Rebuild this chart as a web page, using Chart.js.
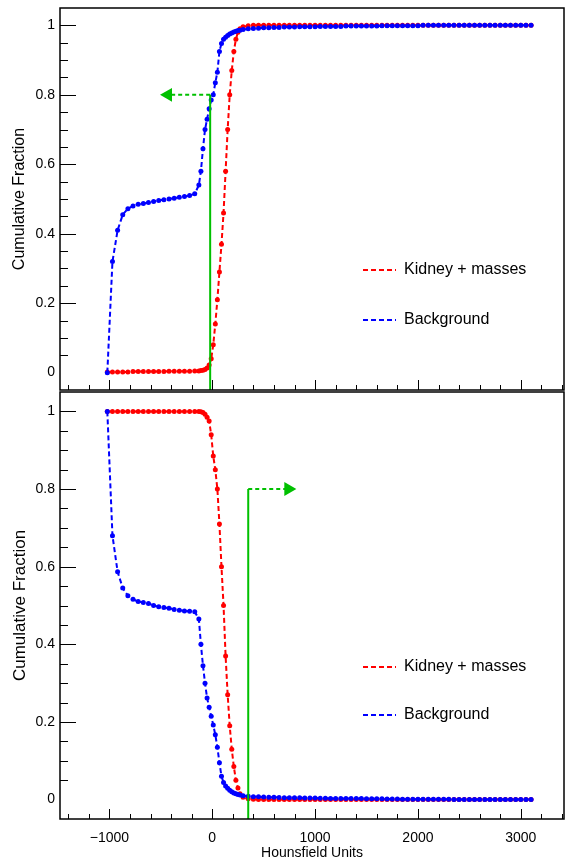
<!DOCTYPE html>
<html>
<head>
<meta charset="utf-8">
<script src="https://cdn.jsdelivr.net/npm/chart.js@4.4.0/dist/chart.umd.min.js"></script>
<style>
  body { margin: 0; background: #fff; }
  #wrap { position: relative; width: 565px; height: 863px; }
  canvas { position: absolute; left: 0; }
  #upper { top: 0; }
  #lower { top: 388px; }
</style>
</head>
<body>
<div id="wrap">
  <canvas id="upper" width="565" height="392"></canvas>
  <canvas id="lower" width="565" height="475"></canvas>
</div>
<script>
"use strict";

/*----------------------------------------*/
/*  data
/*----------------------------------------*/
var hu = [-1020,-970,-920,-870,-820,-770,-720,-670,-620,-570,-520,-470,-420,-370,-320,-270,-220,-170,
  -130,-110,-90,-70,-50,-30,-10,10,30,50,70,90,110,130,150,170,190,210,230,250,270,
  300,350,
  400,450,500,550,600,650,700,750,800,850,900,950,1000,
  1050,1100,1150,1200,1250,
  1300,1350,1400,1450,1500,1550,1600,
  1650,1700,1750,1800,1850,1900,1950,2000,
  2050,2100,2150,2200,2250,2300,2350,2400,2450,2500,2550,2600,2650,2700,2750,2800,2850,2900,2950,3000,3050,3100];

// upper pad: fraction below the value
var kidneyBelow = [0.002,0.002,0.002,0.002,0.002,0.003,0.003,0.003,0.003,0.003,0.003,0.003,0.004,0.004,0.004,0.004,0.004,0.005,
  0.005,0.006,0.007,0.009,0.013,0.022,0.04,0.08,0.14,0.21,0.29,0.37,0.46,0.58,0.70,0.80,0.87,0.925,0.96,0.98,0.99,
  0.996,0.999,
  1,1,1,1,1,1,1,1,1,1,1,1,1,
  1,1,1,1,1,
  1,1,1,1,1,1,1,
  1,1,1,1,1,1,1,1,
  1,1,1,1,1,1,1,1,1,1,1,1,1,1,1,1,1,1,1,1,1,1];
var backgroundBelow = [0,0.32,0.41,0.455,0.472,0.48,0.485,0.487,0.49,0.493,0.496,0.498,0.5,0.502,0.505,0.507,0.51,0.515,
  0.54,0.58,0.645,0.70,0.73,0.76,0.785,0.80,0.835,0.865,0.925,0.948,0.96,0.966,0.971,0.975,0.978,0.981,0.983,0.985,0.986,
  0.988,0.99,
  0.991,0.992,0.993,0.993,0.994,0.994,0.995,0.995,0.995,0.996,0.996,0.996,0.996,
  0.997,0.997,0.997,0.997,0.997,
  0.998,0.998,0.998,0.998,0.998,0.998,0.998,
  0.999,0.999,0.999,0.999,0.999,0.999,0.999,0.999,
  1,1,1,1,1,1,1,1,1,1,1,1,1,1,1,1,1,1,1,1,1,1];

// lower pad: fraction above the value
var kidneyAbove = [1,1,1,1,1,1,1,1,1,1,1,1,1,1,1,1,1,1,
  1,0.999,0.997,0.993,0.985,0.975,0.94,0.885,0.85,0.80,0.71,0.60,0.50,0.37,0.27,0.19,0.13,0.085,0.05,0.03,0.015,
  0.006,0.002,
  0.001,0.0005,0,0,0,0,0,0,0,0,0,0,0,
  0,0,0,0,0,
  0,0,0,0,0,0,0,
  0,0,0,0,0,0,0,0,
  0,0,0,0,0,0,0,0,0,0,0,0,0,0,0,0,0,0,0,0,0,0];
var backgroundAbove = [1,0.68,0.587,0.545,0.525,0.516,0.51,0.508,0.505,0.5,0.497,0.495,0.493,0.49,0.488,0.486,0.485,0.484,
  0.465,0.40,0.345,0.30,0.262,0.238,0.215,0.192,0.167,0.135,0.095,0.06,0.044,0.035,0.029,0.024,0.02,0.017,0.015,0.013,0.012,
  0.01,0.0085,
  0.0075,0.007,0.0065,0.006,0.006,0.0055,0.005,0.005,0.0045,0.0045,0.004,0.004,0.004,
  0.0035,0.0035,0.003,0.003,0.003,
  0.0025,0.0025,0.0025,0.0025,0.002,0.002,0.002,
  0.002,0.0015,0.0015,0.0015,0.001,0.001,0.001,0.001,
  0.001,0.001,0.0008,0.0008,0.0007,0.0006,0.0005,0.0005,0.0004,0.0004,0.0003,0.0003,0.0003,0.0002,0.0002,0.0002,0.0001,0.0001,0.0001,0.0001,0.0001,0];

// cut lines and arrows
var cutUpper = -20, arrowUpper = -430;
var cutLower = 350, arrowLower = 740;
var arrowLevel = 0.8;

var xTicks = [-1000, 0, 1000, 2000, 3000];
var yTicks = [0, 0.2, 0.4, 0.6, 0.8, 1];
var legendLabels = ["Kidney + masses", "Background"];

var xMin = -1480, xMax = 3420, yMin = -0.05, yMax = 1.05;
var RED = '#ff0000', BLUE = '#0000ff', GREEN = '#00c000';
var FONT = '"Liberation Sans", Arial, Helvetica, sans-serif';

/*----------------------------------------*/
/*  helpers
/*----------------------------------------*/
function pts(ys) {
  return hu.map(function (x, i) { return { x: x, y: ys[i] }; });
}

function curve(label, ys, color) {
  return {
    label: label, data: pts(ys), showLine: true,
    borderColor: color, backgroundColor: color, borderWidth: 2, borderDash: [5, 3],
    pointRadius: 2.5, pointHoverRadius: 2.5, pointBorderWidth: 0, pointBackgroundColor: color
  };
}

function cutSets(cut, head, rot) {
  return [
    { data: [{ x: head, y: arrowLevel }], showLine: false, pointStyle: 'triangle', pointRotation: rot,
      pointRadius: 8, pointHoverRadius: 8, pointBorderWidth: 0, pointBackgroundColor: GREEN },
    { data: [{ x: cut, y: yMin }, { x: cut, y: arrowLevel }], showLine: true,
      borderColor: GREEN, borderWidth: 2, pointRadius: 0 },
    { data: [{ x: cut, y: arrowLevel }, { x: head, y: arrowLevel }], showLine: true,
      borderColor: GREEN, borderWidth: 2, borderDash: [4, 3], pointRadius: 0 }
  ];
}

// ROOT style frame with ticks pointing inwards
var frameTicks = {
  id: 'frameTicks',
  afterDatasetsDraw: function (chart) {
    var ctx = chart.ctx, a = chart.chartArea, x = chart.scales.x, y = chart.scales.y;
    ctx.save();
    ctx.strokeStyle = '#000';
    ctx.lineWidth = 1;
    ctx.beginPath();
    for (var v = -1400; v <= 3400; v += 200) {
      var px = Math.round(x.getPixelForValue(v)) + 0.5;
      var len = (v % 1000 === 0) ? 10 : 5;
      ctx.moveTo(px, a.bottom);
      ctx.lineTo(px, a.bottom - len);
    }
    for (var k = 1; k <= 20; k++) {
      var py = Math.round(y.getPixelForValue(k * 0.05)) + 0.5;
      var l2 = (k % 4 === 0) ? 16 : 8;
      ctx.moveTo(a.left, py);
      ctx.lineTo(a.left + l2, py);
    }
    ctx.stroke();
    ctx.lineWidth = 1.5;
    ctx.strokeRect(a.left, a.top, a.right - a.left, a.bottom - a.top);
    ctx.restore();
  }
};

var padLegend = {
  id: 'padLegend',
  afterDraw: function (chart, args, opts) {
    var ctx = chart.ctx;
    var colors = [RED, BLUE];
    ctx.save();
    ctx.lineWidth = 2;
    ctx.setLineDash([5, 3]);
    ctx.font = '16px ' + FONT;
    ctx.textBaseline = 'middle';
    ctx.fillStyle = '#000';
    opts.rows.forEach(function (ry, i) {
      ctx.strokeStyle = colors[i];
      ctx.beginPath();
      ctx.moveTo(363, ry);
      ctx.lineTo(396, ry);
      ctx.stroke();
      ctx.fillText(legendLabels[i], 404, ry);
    });
    ctx.restore();
  }
};

function fmtX(v) {
  return v < 0 ? '\u2212' + Math.abs(v) : String(v);
}

function makePad(id, datasets, o) {
  return new Chart(document.getElementById(id), {
    type: 'scatter',
    data: { datasets: datasets },
    plugins: [frameTicks, padLegend],
    options: {
      responsive: false,
      animation: false,
      events: [],
      layout: { autoPadding: false, padding: { left: 0, right: 1, top: o.top, bottom: 0 } },
      plugins: {
        legend: { display: false },
        tooltip: { enabled: false },
        padLegend: { rows: o.legendRows }
      },
      scales: {
        x: {
          type: 'linear', min: xMin, max: xMax,
          afterBuildTicks: function (s) { s.ticks = xTicks.map(function (v) { return { value: v }; }); },
          afterFit: function (s) { s.height = o.xHeight; s.paddingLeft = 0; s.paddingRight = 0; },
          grid: { display: false }, border: { display: false },
          ticks: { display: o.xLabels, padding: 3, autoSkip: false, maxRotation: 0, color: '#000',
                   font: { family: FONT, size: 14 }, callback: fmtX },
          title: { display: o.xLabels, text: 'Hounsfield Units', color: '#000',
                   font: { family: FONT, size: 14 }, padding: { top: 0, bottom: 1 } }
        },
        y: {
          type: 'linear', min: yMin, max: yMax,
          afterBuildTicks: function (s) { s.ticks = yTicks.map(function (v) { return { value: v }; }); },
          afterFit: function (s) { s.width = 60; s.paddingTop = 0; s.paddingBottom = 0; },
          grid: { display: false, drawTicks: false }, border: { display: false },
          ticks: { padding: 5, color: '#000', font: { family: FONT, size: 14 },
                   callback: function (v) { return String(v); } },
          title: { display: true, text: 'Cumulative Fraction', color: '#000',
                   font: { family: FONT, size: o.yTitleSize }, padding: { top: 10, bottom: 0 } }
        }
      }
    }
  });
}

/*----------------------------------------*/
/*  1.  upper pad
/*----------------------------------------*/
var upper = makePad('upper',
  cutSets(cutUpper, arrowUpper, -90).concat([
    curve('Background', backgroundBelow, BLUE),
    curve('Kidney + masses', kidneyBelow, RED)
  ]),
  { top: 8, xHeight: 2, xLabels: false, yTitleSize: 16, legendRows: [270, 320] });

/*----------------------------------------*/
/*  2.  lower pad
/*----------------------------------------*/
var lower = makePad('lower',
  cutSets(cutLower, arrowLower, 90).concat([
    curve('Background', backgroundAbove, BLUE),
    curve('Kidney + masses', kidneyAbove, RED)
  ]),
  { top: 4, xHeight: 44, xLabels: true, yTitleSize: 17, legendRows: [279, 327] });
</script>
</body>
</html>
